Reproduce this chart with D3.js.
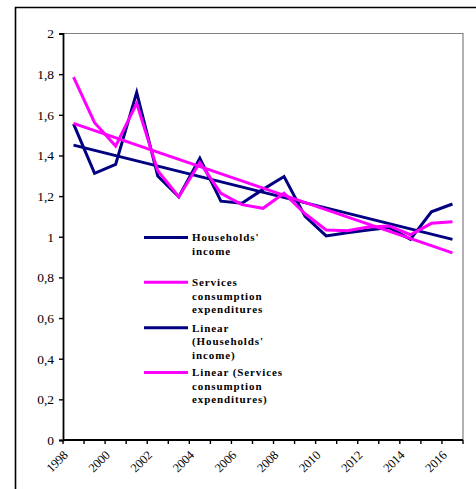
<!DOCTYPE html>
<html><head><meta charset="utf-8">
<script src="https://cdn.jsdelivr.net/npm/d3@7"></script>
<style>
html,body{margin:0;padding:0;background:#fff;}
svg{display:block;}
</style></head>
<body>
<svg id="chart" width="476" height="489"></svg>
<script>
const years = [1998,1999,2000,2001,2002,2003,2004,2005,2006,2007,2008,2009,2010,2011,2012,2013,2014,2015,2016];
const householdsIncome = [1.555,1.312,1.356,1.71,1.299,1.197,1.386,1.175,1.165,1.233,1.296,1.10,1.004,1.02,1.033,1.045,0.987,1.123,1.161];
const servicesExpenditures = [1.785,1.561,1.446,1.657,1.325,1.197,1.365,1.214,1.158,1.14,1.214,1.113,1.033,1.03,1.048,1.053,1.01,1.066,1.074];
const trendYears = [1998, 2016];
const trendHouseholds = [1.451, 0.987];
const trendServices = [1.558, 0.921];
const yTicks = [0,0.2,0.4,0.6,0.8,1,1.2,1.4,1.6,1.8,2];
const xLabelYears = [1998,2000,2002,2004,2006,2008,2010,2012,2014,2016];
const legendItems = [
  {lines:["Households'","income"], color:"#000080"},
  {lines:["Services","consumption","expenditures"], color:"#FF00FF"},
  {lines:["Linear","(Households'","income)"], color:"#000080"},
  {lines:["Linear (Services","consumption","expenditures)"], color:"#FF00FF"}
];

const svg = d3.select("#chart");
const L = 63, R = 463, T = 33.5, B = 440;

// outer frame
svg.append("path").attr("d", `M15.5,489 L15.5,7.5 L476,7.5`)
  .attr("fill","none").attr("stroke","#000").attr("stroke-width",1.6);

const x = d3.scaleBand().domain(years).range([L, R]).padding(0);
const cx = d => x(d) + x.bandwidth()/2;
const y = d3.scaleLinear().domain([0,2]).range([B, T]);

// plot border (grey top & right)
svg.append("path").attr("d", `M${L},${T} L${R},${T} L${R},${B}`)
  .attr("fill","none").attr("stroke","#808080").attr("stroke-width",1.2);

// y axis
const yAxis = d3.axisLeft(y).tickValues(yTicks).tickSize(4).tickPadding(5)
  .tickFormat(d => d3.format("")(d).replace(".", ","));
const gy = svg.append("g").attr("transform", `translate(${L},0)`).call(yAxis);
gy.select(".domain").attr("stroke","#000").attr("stroke-width",1.8);
gy.selectAll(".tick line").attr("stroke","#000").attr("stroke-width",1.4);
gy.selectAll(".tick text").attr("font-family","'Liberation Serif', serif").attr("font-size","13.5px").attr("fill","#000");

// x axis baseline and ticks at category boundaries
const boundaries = years.map(d => x(d)).concat([R]);
svg.append("line").attr("x1",L).attr("x2",R).attr("y1",B).attr("y2",B)
  .attr("stroke","#000").attr("stroke-width",1.8);
svg.selectAll(".xtick").data(boundaries).enter().append("line")
  .attr("x1", d=>d).attr("x2", d=>d).attr("y1", B).attr("y2", B+4)
  .attr("stroke","#000").attr("stroke-width",1.4);
svg.selectAll(".xlab").data(xLabelYears).enter().append("text")
  .attr("transform", d => `translate(${cx(d)-5},${B+16}) rotate(-45)`)
  .attr("text-anchor","end")
  .attr("font-family","'Liberation Serif', serif").attr("font-size","12.5px")
  .attr("letter-spacing","-0.2px")
  .text(d => d);

// lines
const line = d3.line().x(d => cx(d[0])).y(d => y(d[1]));
function draw(xs, vals, color){
  svg.append("path").datum(xs.map((d,i)=>[d, vals[i]]))
    .attr("d", line).attr("fill","none").attr("stroke",color)
    .attr("stroke-width",3).attr("stroke-linejoin","miter");
}
draw(trendYears, trendHouseholds, "#000080");
draw(years, householdsIncome, "#000080");
draw(years, servicesExpenditures, "#FF00FF");
draw(trendYears, trendServices, "#FF00FF");

// legend
const legendY = [237.5, 282.3, 327.7, 372.5];
const lh = 13.5;
legendItems.forEach((it, i) => {
  const g = svg.append("g");
  g.append("line").attr("x1",144).attr("x2",188).attr("y1",legendY[i]).attr("y2",legendY[i])
    .attr("stroke", it.color).attr("stroke-width",3);
  it.lines.forEach((t, j) => {
    g.append("text").attr("x",192).attr("y", legendY[i] + j*lh).attr("dy","0.35em")
      .attr("font-family","'Liberation Serif', serif").attr("font-weight","bold")
      .attr("font-size","11px").attr("letter-spacing","0.9px")
      .attr("fill","#000").text(t);
  });
});
</script>
</body></html>
